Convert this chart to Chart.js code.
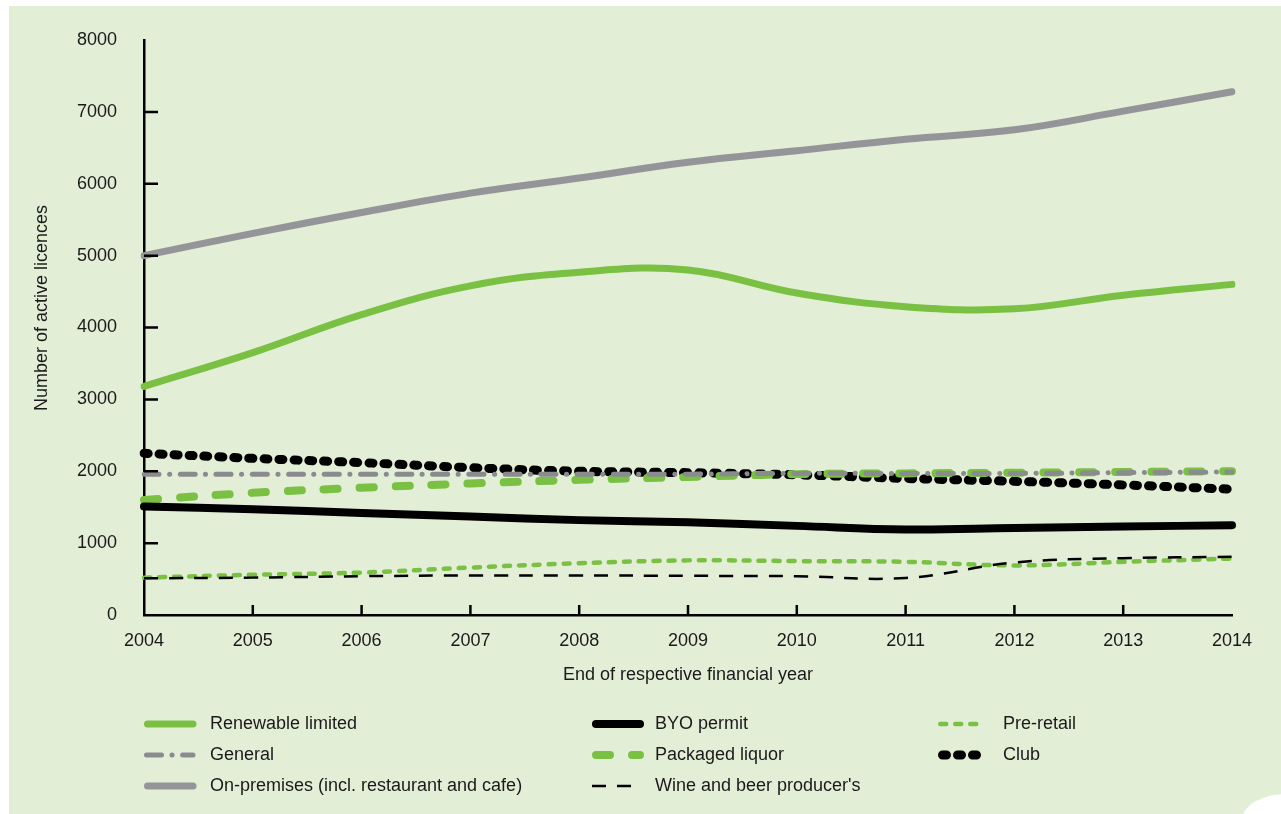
<!DOCTYPE html>
<html>
<head>
<meta charset="utf-8">
<script src="https://cdn.jsdelivr.net/npm/chart.js@4.4.1/dist/chart.umd.min.js"></script>
<style>
  html, body { margin: 0; padding: 0; background: #ffffff; }
  #panel { position: absolute; left: 9px; top: 6px; width: 1272px; height: 808px; background: #e2eed6; }
  #curl { position: absolute; left: 1242px; top: 794px; width: 70px; height: 60px; background: #ffffff; border-top-left-radius: 44px 26px; }
  #wrap { position: absolute; left: 0; top: 0; width: 1281px; height: 814px; }
</style>
</head>
<body>
<div id="panel"></div>
<div id="curl"></div>
<div id="wrap"><canvas id="myChart"></canvas></div>
<script>
// Licence counts at the end of each financial year
const years = ['2004', '2005', '2006', '2007', '2008', '2009', '2010', '2011', '2012', '2013', '2014'];
const renewableLimited = [3180, 3650, 4180, 4580, 4770, 4800, 4480, 4290, 4260, 4450, 4600];
const general = [1960, 1960, 1960, 1960, 1960, 1960, 1970, 1970, 1970, 1980, 1990];
const onPremises = [5000, 5310, 5600, 5870, 6080, 6300, 6460, 6620, 6750, 7010, 7280];
const byoPermit = [1510, 1470, 1420, 1370, 1320, 1290, 1240, 1190, 1210, 1230, 1250];
const packagedLiquor = [1600, 1700, 1770, 1830, 1880, 1920, 1960, 1970, 1980, 1990, 2000];
const wineBeerProducers = [510, 520, 540, 550, 550, 545, 540, 515, 730, 790, 810];
const preRetail = [520, 560, 590, 660, 720, 760, 750, 740, 690, 740, 785];
const club = [2250, 2180, 2120, 2050, 2000, 1980, 1950, 1900, 1860, 1810, 1750];

const green = '#7ac143';
const grey = '#939598';
const FONT = "'Liberation Sans', Arial, sans-serif";
const textColor = '#1a1a1a';

function line(label, data, color, width, dash, cap) {
    return {
        label: label,
        data: data,
        borderColor: color,
        backgroundColor: color,
        borderWidth: width,
        borderDash: dash,
        borderCapStyle: cap || 'round',
        tension: 0.4,
        pointRadius: 0,
        fill: false
    };
}

// Inward tick marks on both axes, plus the vertical axis title
const innerTicks = {
    id: 'innerTicks',
    afterDatasetsDraw(chart) {
        const { ctx, scales: { x, y }, chartArea } = chart;
        ctx.save();
        ctx.strokeStyle = '#000';
        ctx.lineWidth = 2.5;
        ctx.beginPath();
        for (let v = 1000; v <= 7000; v += 1000) {
            const py = y.getPixelForValue(v);
            ctx.moveTo(chartArea.left, py);
            ctx.lineTo(chartArea.left + 14, py);
        }
        for (let i = 1; i < years.length - 1; i++) {
            const px = x.getPixelForValue(i);
            ctx.moveTo(px, chartArea.bottom);
            ctx.lineTo(px, chartArea.bottom - 10);
        }
        ctx.stroke();

        ctx.translate(42, 308);
        ctx.rotate(-Math.PI / 2);
        ctx.fillStyle = textColor;
        ctx.font = '18px ' + FONT;
        ctx.textAlign = 'center';
        ctx.textBaseline = 'middle';
        ctx.fillText('Number of active licences', 0, 0);
        ctx.restore();
    }
};

// Three-column legend laid out column by column
const columnLegend = {
    id: 'columnLegend',
    afterDraw(chart) {
        const { ctx } = chart;
        const cols = [
            { x0: 144, x1: 193, tx: 210 },
            { x0: 592, x1: 640, tx: 655 },
            { x0: 938, x1: 980, tx: 1003 }
        ];
        const rows = [724, 755, 786];
        ctx.save();
        chart.data.datasets.forEach((ds, i) => {
            const c = cols[Math.floor(i / 3)];
            const y = rows[i % 3];
            ctx.strokeStyle = ds.borderColor;
            ctx.lineWidth = ds.borderWidth;
            ctx.lineCap = ds.borderCapStyle;
            ctx.setLineDash(ds.borderDash || []);
            ctx.beginPath();
            ctx.moveTo(c.x0 + (ds.borderCapStyle === 'round' ? ds.borderWidth / 2 : 0), y);
            ctx.lineTo(c.x1, y);
            ctx.stroke();
            ctx.setLineDash([]);
            ctx.fillStyle = textColor;
            ctx.font = '18px ' + FONT;
            ctx.textBaseline = 'middle';
            ctx.fillText(ds.label, c.tx, y);
        });
        ctx.restore();
    }
};

const ctx = document.getElementById('myChart').getContext('2d');
new Chart(ctx, {
    type: 'line',
    data: {
        labels: years,
        datasets: [
            line('Renewable limited', renewableLimited, green, 7, []),
            line('General', general, '#8a8b8e', 5, [15, 10.5, 0.1, 10.5]),
            line('On-premises (incl. restaurant and cafe)', onPremises, grey, 7, []),
            line('BYO permit', byoPermit, '#000000', 8, []),
            line('Packaged liquor', packagedLiquor, green, 8, [14, 22]),
            line("Wine and beer producer's", wineBeerProducers, '#000000', 2.5, [14, 11], 'butt'),
            line('Pre-retail', preRetail, green, 4.5, [6, 9]),
            line('Club', club, '#000000', 9, [4, 11])
        ]
    },
    options: {
        responsive: true,
        maintainAspectRatio: false,
        animation: false,
        layout: { padding: { left: 0, top: 40, right: 49, bottom: 0 } },
        plugins: {
            legend: { display: false },
            tooltip: { enabled: false }
        },
        scales: {
            x: {
                grid: { display: false, drawTicks: false },
                border: { display: true, color: '#000', width: 2.5 },
                ticks: { color: textColor, font: { family: FONT, size: 18 }, padding: 15, maxRotation: 0 },
                title: {
                    display: true,
                    text: 'End of respective financial year',
                    color: textColor,
                    font: { family: FONT, size: 18 },
                    padding: { top: 0, bottom: 128 }
                },
                afterFit(scale) { scale.height = 199; }
            },
            y: {
                min: 0,
                max: 8000,
                grid: { display: false, drawTicks: false },
                border: { display: true, color: '#000', width: 2.5 },
                ticks: {
                    stepSize: 1000,
                    color: textColor,
                    font: { family: FONT, size: 18 },
                    padding: 27,
                    callback: value => String(value)
                },
                afterFit(scale) { scale.width = 144; }
            }
        }
    },
    plugins: [innerTicks, columnLegend]
});
</script>
</body>
</html>
